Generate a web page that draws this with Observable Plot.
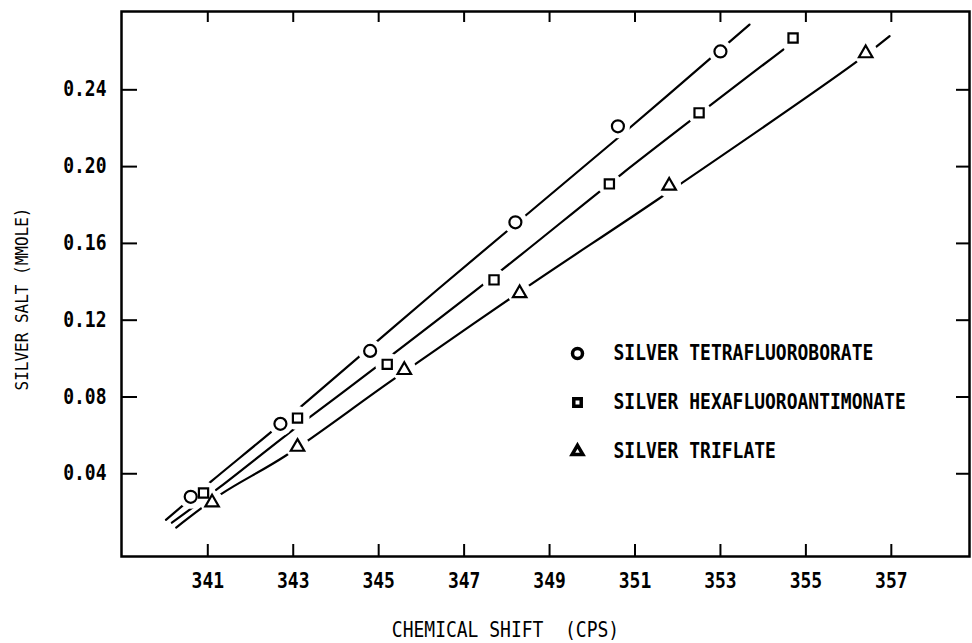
<!DOCTYPE html>
<html><head><meta charset="utf-8">
<script src="https://cdn.jsdelivr.net/npm/d3@7"></script>
<script src="https://cdn.jsdelivr.net/npm/@observablehq/plot@0.6"></script>
<style>
body{margin:0;background:#fff;}
#chart svg{display:block;}
</style></head><body><div id="chart"></div>
<script>
// ---- data ----
const xTicks = [341, 343, 345, 347, 349, 351, 353, 355, 357];
const yTicks = [0.04, 0.08, 0.12, 0.16, 0.20, 0.24];

const seriesNames = ["SILVER TETRAFLUOROBORATE", "SILVER HEXAFLUOROANTIMONATE", "SILVER TRIFLATE"];
const seriesSymbols = ["circle", "square", "triangle"];

const shiftCircle = [340.6, 342.7, 344.8, 348.2, 350.6, 353.0];
const saltCircle  = [0.028, 0.066, 0.104, 0.171, 0.221, 0.260];
const shiftSquare = [340.9, 343.1, 345.2, 347.7, 350.4, 352.5, 354.7];
const saltSquare  = [0.030, 0.069, 0.097, 0.141, 0.191, 0.228, 0.267];
const shiftTriangle = [341.1, 343.1, 345.6, 348.3, 351.8, 356.4];
const saltTriangle  = [0.025, 0.054, 0.094, 0.134, 0.190, 0.259];

// hand-drawn fitted curves
const circleFitX = [340.02, 341.08, 342.71, 346.38, 350.55, 353.68];
const circleFitY = [0.016, 0.036, 0.066, 0.136, 0.214, 0.274];
const squareFitX = [340.16, 341.28, 342.83, 344.53, 347.93, 350.68, 354.47];
const squareFitY = [0.0145, 0.033, 0.060, 0.0886, 0.147, 0.196, 0.261];
const triangleFitX = [340.26, 341.32, 342.83, 345.31, 348.52, 351.54, 356.15, 356.96];
const triangleFitY = [0.012, 0.0295, 0.0495, 0.0886, 0.138, 0.183, 0.254, 0.268];

// ---- layout ----
const W = 972, H = 643, mL = 121, mR = 3, mT = 11, mB = 87;
const pw = W - mL - mR, ph = H - mT - mB;
const xDomain = [338.98, 358.83], yDomain = [-0.0031, 0.2808];
const FONT = "'DejaVu Sans Mono', 'Liberation Mono', monospace";
const leftTickLen = 16 * (xDomain[1] - xDomain[0]) / pw; // 16px expressed in x units

const series = [
  {name: seriesNames[0], symbol: seriesSymbols[0], xs: shiftCircle, ys: saltCircle, fx: circleFitX, fy: circleFitY, r: 6},
  {name: seriesNames[1], symbol: seriesSymbols[1], xs: shiftSquare, ys: saltSquare, fx: squareFitX, fy: squareFitY, r: 5.2},
  {name: seriesNames[2], symbol: seriesSymbols[2], xs: shiftTriangle, ys: saltTriangle, fx: triangleFitX, fy: triangleFitY, r: 5}
];
const points = series.flatMap(s => s.xs.map((x, i) => ({name: s.name, x, y: s.ys[i]})));
const fits = series.flatMap(s => s.fx.map((x, i) => ({name: s.name, x, y: s.fy[i]})));

const legendDy = [342, 391, 440];

const marks = [
  Plot.line(fits, {x: "x", y: "y", z: "name", stroke: "#000", strokeWidth: 2.2, curve: "catmull-rom"}),
  Plot.dot(points, {x: "x", y: "y", r: 12, fill: "white", stroke: null}),
  ...series.map(s => Plot.dot(points.filter(p => p.name === s.name),
    {x: "x", y: "y", symbol: s.symbol, r: s.r, stroke: "#000", strokeWidth: 2.2, fill: "white"})),
  Plot.frame({stroke: "#000", strokeWidth: 2.5}),
  // inward ticks on all four sides
  Plot.ruleY(yTicks, {y: d => d, x1: () => xDomain[0], x2: () => xDomain[0] + leftTickLen, stroke: "#000", strokeWidth: 2}),
  Plot.tickY(yTicks, {y: d => d, insetLeft: pw - 13, stroke: "#000", strokeWidth: 2}),
  Plot.tickX(xTicks, {x: d => d, insetTop: ph - 12, stroke: "#000", strokeWidth: 2}),
  Plot.tickX(xTicks, {x: d => d, insetBottom: ph - 11, stroke: "#000", strokeWidth: 2}),
  Plot.axisX(xTicks, {anchor: "bottom", label: null, tickSize: 0, tickPadding: 17, fontSize: 18, fontWeight: "bold", fill: "#000"}),
  Plot.axisY(yTicks, {anchor: "left", label: null, tickSize: 0, tickPadding: 15, fontSize: 18, fontWeight: "bold", fill: "#000", tickFormat: d => d.toFixed(2)}),
  Plot.text(["CHEMICAL SHIFT\u00a0\u00a0(CPS)"], {frameAnchor: "bottom", dx: -40, dy: 74, textAnchor: "middle", lineAnchor: "middle", fontSize: 18, fill: "#000"}),
  Plot.text(["SILVER SALT (MMOLE)"], {frameAnchor: "left", rotate: -90, dx: -99, dy: 15, textAnchor: "middle", lineAnchor: "middle", fontSize: 16, fill: "#000"}),
  // legend
  ...series.map((s, i) => Plot.dot([s.name], {frameAnchor: "top-left", dx: 456, dy: legendDy[i], symbol: s.symbol, r: s.r - 1, stroke: "#000", strokeWidth: 3.5, fill: "white"})),
  ...series.map((s, i) => Plot.text([s.name], {frameAnchor: "top-left", dx: 492, dy: legendDy[i], text: d => d, textAnchor: "start", lineAnchor: "middle", fontSize: 18, fontWeight: "bold", fill: "#000"}))
];

const chart = Plot.plot({
  width: W, height: H,
  marginLeft: mL, marginRight: mR, marginTop: mT, marginBottom: mB,
  x: {domain: xDomain},
  y: {domain: yDomain},
  style: {fontFamily: FONT, fontSize: "18px", color: "#000", background: "#fff"},
  marks
});
document.getElementById("chart").appendChild(chart);

// the original lettering is tall and narrow: stretch glyphs vertically about their anchor
d3.select(chart).selectAll("text").each(function () {
  const t = this.getAttribute("transform");
  if (t) {
    this.setAttribute("transform", t + " scale(1,1.15)");
  } else {
    const x = +(this.getAttribute("x") || 0), y = +(this.getAttribute("y") || 0);
    this.setAttribute("transform", `translate(${x},${y}) scale(1,1.15) translate(${-x},${-y})`);
  }
});
</script></body></html>
